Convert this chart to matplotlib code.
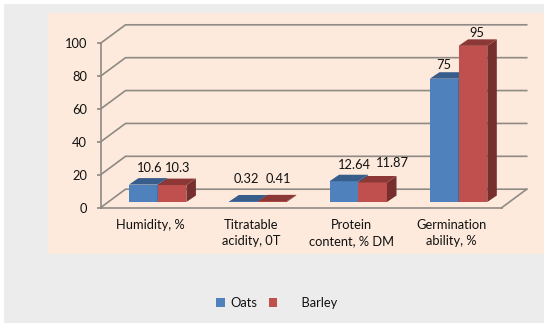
import matplotlib
matplotlib.use('Agg')
import matplotlib.pyplot as plt
from matplotlib.patches import Polygon, Rectangle
import numpy as np

categories = ['Humidity, %', 'Titratable\nacidity, 0T', 'Protein\ncontent, % DM', 'Germination\nability, %']
oats = [10.6, 0.32, 12.64, 75]
barley = [10.3, 0.41, 11.87, 95]
oats_labels = ['10.6', '0.32', '12.64', '75']
barley_labels = ['10.3', '0.41', '11.87', '95']
yticks = [0, 20, 40, 60, 80, 100]

# label offsets from the bar's front top corner centre, in pixels
oats_off = [(6, 16.5), (3, 22.5), (10, 16), (0, 14)]
barley_off = [(6, 17), (6, 22), (20, 19.5), (4, 13)]

W, H = 550, 329
plt.rcParams['font.family'] = ['Lato', 'DejaVu Sans']
text_col = '#111111'
grid_col = '#8f8a84'
fs = 9.3

fig = plt.figure(figsize=(W / 100, H / 100), dpi=100, facecolor='white')
fig.add_artist(Rectangle((4 / W, 1 - 323 / H), 540 / W, 319 / H, transform=fig.transFigure,
                         fc='#ececec', ec='none', zorder=-2))
fig.add_artist(Rectangle((48 / W, 1 - 254 / H), 496 / W, 241 / H, transform=fig.transFigure,
                         fc='#fdeadc', ec='none', zorder=-1))

ax = fig.add_axes([100.5 / W, 1 - 207.7 / H, 401.2 / W, 164.4 / H])
ax.patch.set_visible(False)
ax.set_xlim(0, 4)
ax.set_ylim(0, 100)

# depth of the 3d box, in data units
dx, dy = 0.2494, 11.25
for v in yticks:
    ax.plot([0, dx, 4 + dx], [v, v + dy, v + dy], color=grid_col, lw=1.2, clip_on=False, zorder=1)
ax.plot([4, 4 + dx], [0, dy], color=grid_col, lw=1.2, clip_on=False, zorder=1)

for s in ['top', 'right']:
    ax.spines[s].set_visible(False)
for s in ['left', 'bottom']:
    ax.spines[s].set_color(grid_col)
    ax.spines[s].set_linewidth(1.2)

ax.set_yticks(yticks)
ax.set_yticklabels([str(v) for v in yticks], fontsize=fs, color=text_col)
ax.tick_params(axis='y', length=3, width=1.2, color=grid_col, pad=6.5)
ax.set_xticks(np.arange(4) + 0.5)
ax.set_xticklabels(categories, fontsize=fs, color=text_col, linespacing=1.45)
ax.tick_params(axis='x', length=0, pad=8)

# bars
w = 0.2863
shift = 0.07
base = 3.46
bx, by = 0.095, 3.95
x = np.arange(4) + 0.5 + shift

def bar3d(xs, vals, front, top, side, label):
    ax.bar(xs, vals, w, bottom=base, color=front, zorder=3, label=label, clip_on=False)
    for xi, v in zip(xs, vals):
        l, r, t = xi - w / 2, xi + w / 2, v + base
        ax.add_patch(Polygon([(r, base), (r + bx, base + by), (r + bx, t + by), (r, t)],
                             fc=side, ec='none', zorder=3, clip_on=False))
        ax.add_patch(Polygon([(l, t), (l + bx, t + by), (r + bx, t + by), (r, t)],
                             fc=top, ec='none', zorder=3, clip_on=False))

bar3d(x - w / 2, oats, '#4f81bd', '#385d8a', '#2f5077', 'Oats')
bar3d(x + w / 2, barley, '#c0504d', '#8c3836', '#772f2d', '      Barley')

def labels(xs, vals, txt, off):
    for xi, v, t, o in zip(xs, vals, txt, off):
        ax.annotate(t, (xi, v + base), xytext=(o[0] * 0.72, o[1] * 0.72), textcoords='offset points',
                    ha='center', va='center', fontsize=fs, color=text_col, zorder=5,
                    annotation_clip=False)

labels(x - w / 2, oats, oats_labels, oats_off)
labels(x + w / 2, barley, barley_labels, barley_off)

leg = fig.legend(loc='center', bbox_to_anchor=(277 / W, 1 - 303 / H), ncol=2, frameon=False,
                 fontsize=fs, handlelength=0.65, handleheight=0.65, handletextpad=0.4,
                 columnspacing=0.9, labelcolor=text_col)

fig.savefig('out.png', dpi=100)
